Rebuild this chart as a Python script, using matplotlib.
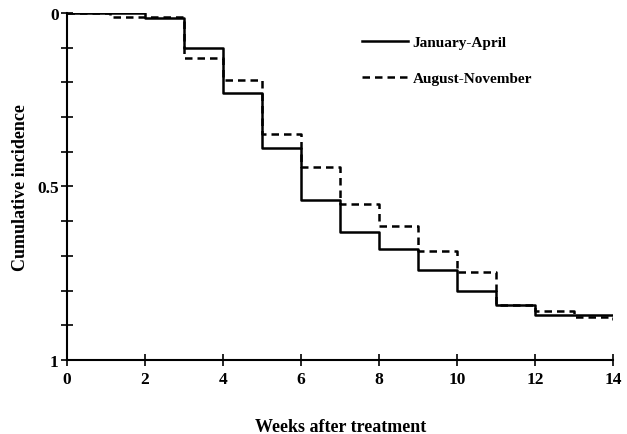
import matplotlib
matplotlib.use("Agg")
import matplotlib.pyplot as plt
from matplotlib.ticker import MultipleLocator

# Data (weeks after treatment, cumulative incidence; step functions)
jan_weeks = [0, 2, 3, 4, 5, 6, 7, 8, 9, 10, 11, 12, 14]
jan_vals = [0.0, 0.015, 0.10, 0.23, 0.39, 0.54, 0.63, 0.68, 0.74, 0.80, 0.84, 0.87, 0.87]
aug_weeks = [0, 1.1, 3, 4, 5, 6, 7, 8, 9, 10, 11, 12, 13, 14]
aug_vals = [0.0, 0.012, 0.13, 0.193, 0.35, 0.445, 0.55, 0.615, 0.685, 0.745, 0.84, 0.86, 0.875, 0.885]
x_ticks = [0, 2, 4, 6, 8, 10, 12, 14]
y_ticks = [0, 0.5, 1]
y_ticklabels = ["0", "0.5", "1"]

plt.rcParams['font.family'] = ['Liberation Serif', 'DejaVu Serif']
plt.rcParams['font.weight'] = 'bold'

fig = plt.figure(figsize=(6.27, 4.35), dpi=100)
ax = fig.add_axes([0.107, 0.170, 0.871, 0.798])

ax.step(jan_weeks, jan_vals, where='post', color='black', lw=1.8, label='January-April')
ax.step(aug_weeks, aug_vals, where='post', color='black', lw=1.8, ls=(0, (3, 2)), label='August-November')

ax.set_xlim(0, 14)
ax.set_ylim(1, 0)
ax.set_xticks(x_ticks)
ax.set_yticks(y_ticks)
ax.set_yticklabels(y_ticklabels)
ax.yaxis.set_minor_locator(MultipleLocator(0.1))
ax.tick_params(axis='both', which='both', direction='inout', length=8, width=1.2, labelsize=12.5)
ax.tick_params(axis='y', which='minor', length=8)
ax.tick_params(axis='x', pad=4)
ax.tick_params(axis='y', pad=2)
for lab in ax.get_xticklabels() + ax.get_yticklabels():
    lab.set_fontweight('bold')

ax.spines['top'].set_visible(False)
ax.spines['right'].set_visible(False)
ax.spines['left'].set_linewidth(1.5)
ax.spines['bottom'].set_linewidth(1.5)

ax.set_xlabel('Weeks after treatment', fontsize=13, fontweight='bold', labelpad=22)
ax.set_ylabel('Cumulative incidence', fontsize=13, fontweight='bold', labelpad=6)

leg = ax.legend(loc='upper left', bbox_to_anchor=(0.515, 0.975), frameon=False,
                fontsize=11, handlelength=3.0, handletextpad=0.3, labelspacing=1.45)
for t in leg.get_texts():
    t.set_fontweight('bold')

fig.savefig('out.png', dpi=100, facecolor='white')
